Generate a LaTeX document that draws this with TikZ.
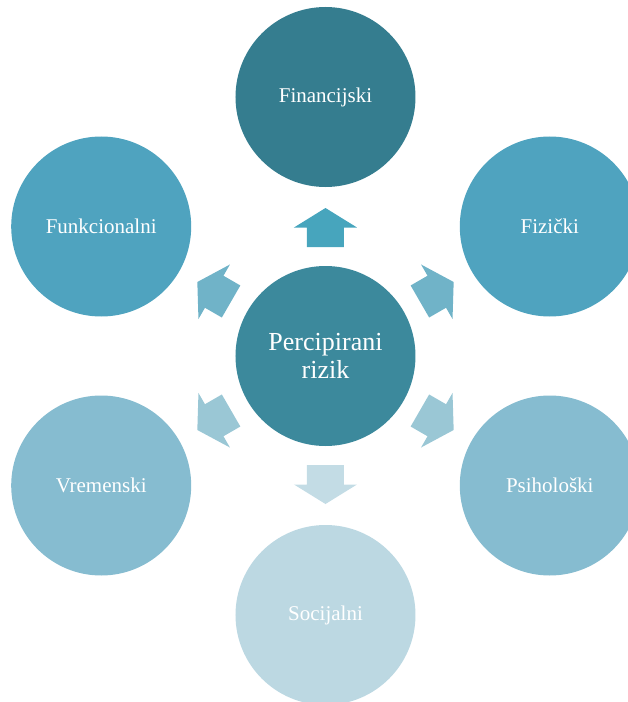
\documentclass[tikz,border=0pt]{standalone}
\usepackage{fontspec}
\setmainfont{Liberation Serif}
\usetikzlibrary{calc}
\definecolor{cTop}{HTML}{357D8F}
\definecolor{cCenter}{HTML}{3C899C}
\definecolor{cUpper}{HTML}{4FA3BF}
\definecolor{cLower}{HTML}{86BCD0}
\definecolor{cBottom}{HTML}{BCD8E2}
\definecolor{aTop}{HTML}{47A5BD}
\definecolor{aUpper}{HTML}{70B3C8}
\definecolor{aLower}{HTML}{9AC7D5}
\definecolor{aBottom}{HTML}{C3DCE5}
\tikzset{
  bubble/.style={circle, minimum size=180pt, inner sep=0pt, text=white,
    font=\fontsize{21}{25}\selectfont, align=center},
  pics/blockarrow/.style={code={
    \fill (-19.5,-18.5) -- (0,-18.5) -- (0,-31.5) -- (19.5,0) -- (0,31.5) -- (0,18.5) -- (-19.5,18.5) -- cycle;}}
}
\begin{document}
\begin{tikzpicture}[x=1pt,y=1pt]
\useasboundingbox (-325.5,-346) rectangle (302.5,356);
\node[bubble, fill=cCenter, font=\fontsize{26}{28}\selectfont] (c) at (0,0) {Percipirani\\rizik};
\node[bubble, fill=cTop] (fin) at (90:259) {Financijski};
\node[bubble, fill=cUpper] (fiz) at (30:259) {Fizički};
\node[bubble, fill=cUpper] (fun) at (150:259) {Funkcionalni};
\node[bubble, fill=cLower] (psi) at (-30:259) {Psihološki};
\node[bubble, fill=cLower] (vre) at (210:259) {Vremenski};
\node[bubble, fill=cBottom] (soc) at (270:259) {Socijalni};
\pic[fill=aTop, rotate=90] at ($(c.center)!128.5pt!(fin.center)$) {blockarrow};
\pic[fill=aUpper, rotate=30] at ($(c.center)!128.5pt!(fiz.center)$) {blockarrow};
\pic[fill=aUpper, rotate=150] at ($(c.center)!128.5pt!(fun.center)$) {blockarrow};
\pic[fill=aLower, rotate=-30] at ($(c.center)!128.5pt!(psi.center)$) {blockarrow};
\pic[fill=aLower, rotate=210] at ($(c.center)!128.5pt!(vre.center)$) {blockarrow};
\pic[fill=aBottom, rotate=270] at ($(c.center)!128.5pt!(soc.center)$) {blockarrow};
\end{tikzpicture}
\end{document}
